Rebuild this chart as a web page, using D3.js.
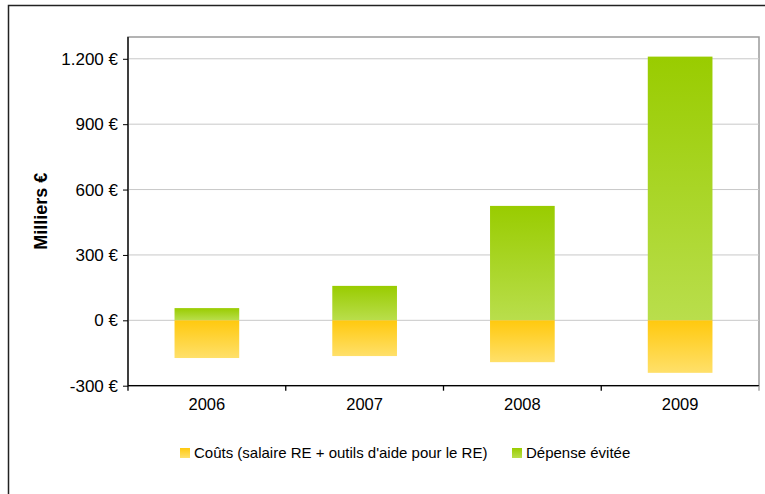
<!DOCTYPE html>
<html><head><meta charset="utf-8">
<script src="https://cdn.jsdelivr.net/npm/d3@7"></script>
<style>body{margin:0;background:#fff}svg{display:block}text{font-family:"Liberation Sans",Arial,sans-serif}</style>
</head><body><svg id="c" width="765" height="494"></svg>
<script>
const years = ["2006","2007","2008","2009"];
const couts = [-173, -164, -192, -241];
const depense = [56, 158, 525, 1210];
const yTicks = [-300, 0, 300, 600, 900, 1200];
const seriesNames = ["Coûts (salaire RE + outils d'aide pour le RE)", "Dépense évitée"];

const svg = d3.select("#c");
const L = 128, R = 759, T = 37, B = 385.7;
const x = d3.scaleBand().domain(years).range([L, R]).paddingInner(0.59).paddingOuter(0.295);
const y = d3.scaleLinear().domain([-300, 1300]).range([B, T]);
const fmt = d => (d < 0 ? "-" : "") + String(Math.abs(d)).replace(/\B(?=(\d{3})+(?!\d))/g, ".") + " €";

const defs = svg.append("defs");
const g1 = defs.append("linearGradient").attr("id","gGreen").attr("x1",0).attr("y1",0).attr("x2",0).attr("y2",1);
g1.append("stop").attr("offset","0%").attr("stop-color","#99cc00");
g1.append("stop").attr("offset","100%").attr("stop-color","#b9de4c");
const g2 = defs.append("linearGradient").attr("id","gOrange").attr("x1",0).attr("y1",0).attr("x2",0).attr("y2",1);
g2.append("stop").attr("offset","0%").attr("stop-color","#ffc90e");
g2.append("stop").attr("offset","100%").attr("stop-color","#ffe06a");

// outer frame
svg.append("rect").attr("x",8.5).attr("y",5.5).attr("width",800).attr("height",600)
  .attr("fill","none").attr("stroke","#222").attr("stroke-width",1.5);

// plot border
svg.append("rect").attr("x",L).attr("y",T).attr("width",R-L).attr("height",B-T)
  .attr("fill","none").attr("stroke","#9a9a9a").attr("stroke-width",1.5);

// gridlines
svg.append("g").selectAll("line").data(yTicks.filter(d=>d>-300)).join("line")
  .attr("x1",L).attr("x2",R).attr("y1",d=>y(d)).attr("y2",d=>y(d))
  .attr("stroke","#c8c8c8").attr("stroke-width",1);

// bars
svg.append("g").selectAll("rect").data(years).join("rect")
  .attr("x",d=>x(d)).attr("width",x.bandwidth())
  .attr("y",(d,i)=>y(depense[i])).attr("height",(d,i)=>y(0)-y(depense[i]))
  .attr("fill","url(#gGreen)");
svg.append("g").selectAll("rect").data(years).join("rect")
  .attr("x",d=>x(d)).attr("width",x.bandwidth())
  .attr("y",y(0)).attr("height",(d,i)=>y(couts[i])-y(0))
  .attr("fill","url(#gOrange)");

// y axis
const ya = svg.append("g").attr("transform",`translate(${L},0)`)
  .call(d3.axisLeft(y).tickValues(yTicks).tickFormat(fmt).tickSize(5).tickPadding(5));
ya.select(".domain").attr("stroke","#000").attr("stroke-width",1.3).attr("d",`M0,${T}V${B+0}`);
ya.selectAll(".tick line").attr("stroke","#000");
ya.selectAll("text").attr("font-size",17).attr("fill","#000").attr("font-family","Liberation Sans, Arial, sans-serif");

// x axis
const xa = svg.append("g").attr("transform",`translate(0,${B})`)
  .call(d3.axisBottom(x).tickSize(0).tickPadding(13));
xa.select(".domain").attr("stroke","#000").attr("stroke-width",1.3).attr("d",`M${L},0H${R}`);
xa.selectAll("text").attr("font-size",16.5).attr("fill","#000").attr("font-family","Liberation Sans, Arial, sans-serif");
const bounds = d3.range(years.length+1).map(i => L + i*x.step());
svg.append("g").selectAll("line").data(bounds).join("line")
  .attr("x1",d=>d).attr("x2",d=>d).attr("y1",B).attr("y2",B+5)
  .attr("stroke",(d,i)=>i===years.length?"#9a9a9a":"#000").attr("stroke-width",1.3);

// y label
svg.append("text").attr("transform",`translate(47,${(T+B)/2}) rotate(-90)`)
  .attr("text-anchor","middle").attr("font-weight","bold").attr("font-size",18).text("Milliers €");

// legend
const leg = [{x:180, fill:"url(#gOrange)"},{x:512, fill:"url(#gGreen)"}];
const lg = svg.append("g").selectAll("g").data(seriesNames).join("g")
  .attr("transform",(d,i)=>`translate(${leg[i].x},448)`);
lg.append("rect").attr("width",10).attr("height",10).attr("fill",(d,i)=>leg[i].fill);
lg.append("text").attr("x",14).attr("y",10).attr("font-size",15).text(d=>d);
</script></body></html>
